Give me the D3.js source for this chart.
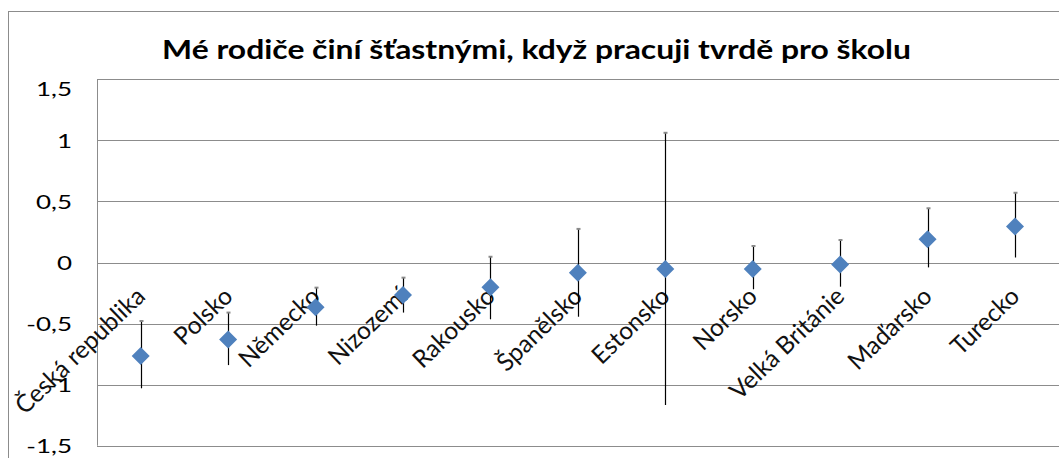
<!DOCTYPE html>
<html><head><meta charset="utf-8">
<script src="https://cdn.jsdelivr.net/npm/d3@7"></script>
<style>html,body{margin:0;padding:0;background:#fff;overflow:hidden}</style>
</head><body>
<svg id="chart" width="1059" height="458"></svg>
<script>
const title = "Mé rodiče činí šťastnými, když  pracuji tvrdě pro školu";
const categories = ["Česká republika","Polsko","Německo","Nizozemí","Rakousko","Španělsko","Estonsko","Norsko","Velká Británie","Maďarsko","Turecko"];
const means = [-0.765, -0.63, -0.367, -0.266, -0.203, -0.083, -0.053, -0.053, -0.017, 0.19, 0.294];
const upper = [-0.479, -0.41, -0.206, -0.124, 0.047, 0.275, 1.062, 0.135, 0.184, 0.444, 0.571];
const lower = [-1.03, -0.84, -0.517, -0.41, -0.465, -0.444, -1.166, -0.219, -0.198, -0.04, 0.041];
const yTicks = [-1.5, -1, -0.5, 0, 0.5, 1, 1.5];
const yTickLabels = ["-1,5", "-1", "-0,5", "0", "0,5", "1", "1,5"];

const svg = d3.select("#chart");
const FONT = "Lato, 'Open Sans', sans-serif";
const plot = {left: 97, right: 1059, top: 79.3, bottom: 445.7};

const x = d3.scaleBand().domain(categories).range([plot.left, plot.left + 11 * 87.43]).padding(0);
const y = d3.scaleLinear().domain([-1.5, 1.5]).range([plot.bottom, plot.top]);

// outer chart border
svg.append("rect").attr("x", 8.5).attr("y", 11.5).attr("width", 1100).attr("height", 500)
  .attr("fill", "none").attr("stroke", "#8c8c8c").attr("stroke-width", 1);

// gridlines
svg.append("g").selectAll("line").data(yTicks).join("line")
  .attr("x1", plot.left).attr("x2", plot.right)
  .attr("y1", d => Math.round(y(d)) + 0.5).attr("y2", d => Math.round(y(d)) + 0.5)
  .attr("stroke", "#8c8c8c").attr("stroke-width", 1);
// left plot border
svg.append("line").attr("x1", plot.left + 0.5).attr("x2", plot.left + 0.5)
  .attr("y1", y(1.5)).attr("y2", y(-1.5)).attr("stroke", "#8c8c8c");

// y tick labels (slightly widened glyphs)
const yl = svg.append("g");
yTicks.forEach((t, i) => {
  const g = yl.append("g").attr("transform", `translate(72,${y(t) + (t === 1.5 ? 9 : 0)}) scale(1.3,1)`);
  g.append("text").text(yTickLabels[i]).attr("text-anchor", "end").attr("dy", "0.36em")
    .attr("font-family", FONT).attr("font-size", 20).attr("fill", "#000");
});

// category labels
const lab = svg.append("g");
categories.forEach(c => {
  const cx = x(c) + x.bandwidth() / 2;
  lab.append("text").text(c)
    .attr("transform", `translate(${cx + 6},298) rotate(-44)`)
    .attr("text-anchor", "end")
    .attr("font-family", FONT).attr("font-size", 24.5).attr("fill", "#111");
});

// error bars
const eb = svg.append("g");
categories.forEach((c, i) => {
  const cx = Math.round(x(c) + x.bandwidth() / 2) + 0.5;
  eb.append("line").attr("x1", cx).attr("x2", cx).attr("y1", y(upper[i])).attr("y2", y(lower[i]))
    .attr("stroke", "#000").attr("stroke-width", 1.2);
  eb.append("line").attr("x1", cx - 2).attr("x2", cx + 2).attr("y1", y(upper[i])).attr("y2", y(upper[i]))
    .attr("stroke", "#8a8a8a").attr("stroke-width", 2);
});

// diamonds
svg.append("g").selectAll("path").data(categories).join("path")
  .attr("d", d3.symbol(d3.symbolSquare, 162))
  .attr("transform", (c, i) => `translate(${x(c) + x.bandwidth() / 2},${y(means[i])}) rotate(45)`)
  .attr("fill", "#4f81bd");

// title, widened to match reference width
const tg = svg.append("g");
const tt = tg.append("text").text(title).attr("font-family", FONT).attr("font-weight", "bold")
  .attr("font-size", 27).attr("text-anchor", "middle").attr("fill", "#000");
const w = tt.node().getComputedTextLength();
const sx = 749 / w;
tg.attr("transform", `translate(536.5,59) scale(${sx},1)`);
</script>
</body></html>
